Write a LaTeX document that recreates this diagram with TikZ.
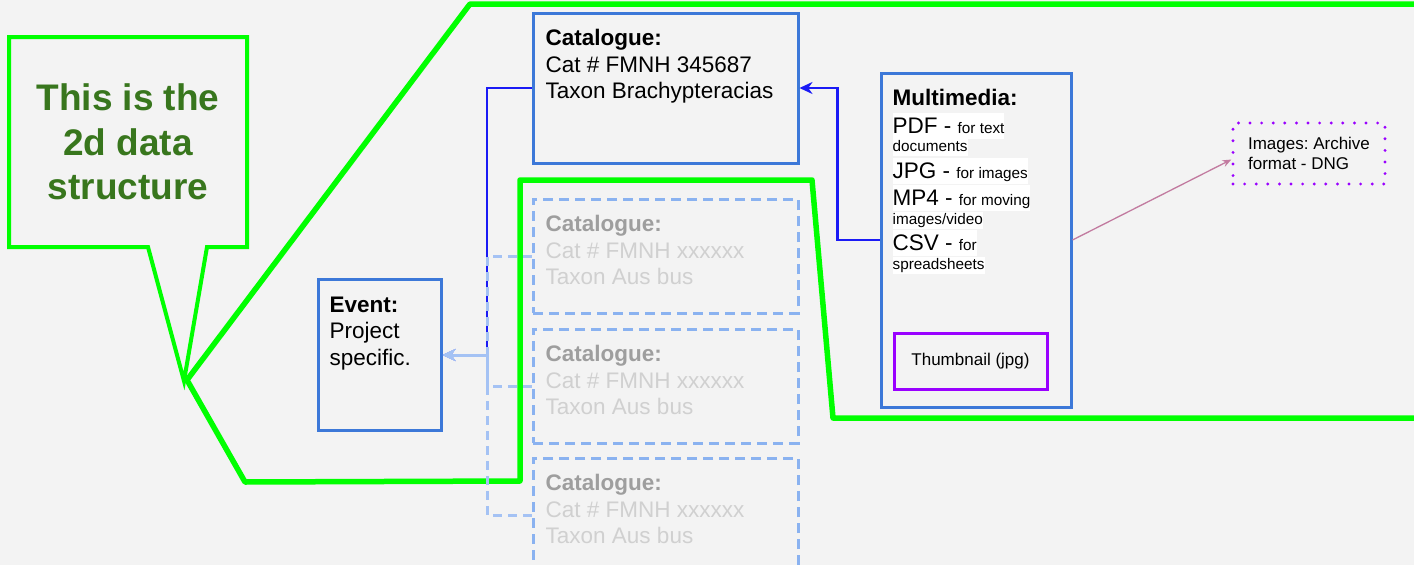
\documentclass[tikz,border=0pt]{standalone}
\usepackage{fontspec}
\setmainfont{Liberation Sans}
\usepackage{tikz}
\usetikzlibrary{positioning}
\usetikzlibrary{arrows.meta}
\usepackage{xcolor}
\definecolor{bggray}{HTML}{F3F3F3}
\definecolor{limegreen}{HTML}{00FF00}
\definecolor{leafgreen}{HTML}{38761D}
\definecolor{boxblue}{HTML}{3C78D8}
\definecolor{linkblue}{HTML}{1A1AF5}
\definecolor{ghostblue}{HTML}{8AB2F0}
\definecolor{ghostline}{HTML}{A4C2F4}
\definecolor{ghosttitle}{HTML}{9E9E9E}
\definecolor{ghosttext}{HTML}{D0D0D0}
\definecolor{thumbpurple}{HTML}{9900FF}
\definecolor{mauve}{HTML}{C27BA0}
\setlength{\fboxsep}{0pt}
\frenchspacing
\newcommand{\topstrut}{\rule{0pt}{17pt}}
\newcommand{\smalltxt}{\fontsize{15.3}{18}\selectfont}
\newcommand{\bighl}[1]{\smash{\colorbox{white}{\rule[-5pt]{0pt}{26pt}#1}}}
\newcommand{\smallhl}[1]{\smash{\colorbox{white}{\rule[-4pt]{0pt}{17pt}#1}}}

\begin{document}
\begin{tikzpicture}[x=1pt, y=-1pt, >=Stealth, node distance=12pt,
    box/.style={draw=boxblue, line width=3pt, rectangle, inner sep=0pt},
    ghostbox/.style={draw=ghostblue, line width=3pt, dash pattern=on 10pt off 6pt,
        rectangle, inner sep=0pt, minimum width=265pt, minimum height=114pt},
    boxtext/.style={anchor=north west, inner sep=0pt, align=left,
        font=\fontsize{22.5}{26.5}\selectfont},
    ghosttextstyle/.style={boxtext, text=ghosttext},
    link/.style={draw=linkblue, line width=2.7pt, -{Stealth[length=13pt, width=12pt]}},
    ghostlink/.style={draw=ghostline, line width=3pt, dash pattern=on 9pt off 6pt,
        -{Stealth[length=13pt, width=12pt]}},
    pinklink/.style={draw=mauve, line width=1.3pt, -{Stealth[length=9pt, width=7pt]}},
    thumbbox/.style={draw=thumbpurple, line width=3pt, inner sep=0pt,
        minimum width=153pt, minimum height=56pt, font=\fontsize{17}{20}\selectfont},
    notebox/.style={draw=thumbpurple, line width=3.2pt, dash pattern=on 0pt off 11.6pt,
        line cap=round, inner sep=0pt, minimum width=152pt, minimum height=61pt,
        align=left, font=\fontsize{17}{20}\selectfont},
    frame/.style={draw=limegreen, line width=5.5pt, line join=round},
    callout/.style={draw=limegreen, line width=4pt, line join=miter}]
    \fill[bggray] (0,0) rectangle (1414,565);
    \useasboundingbox (0,0) rectangle (1414,565);
    \clip (0,0) rectangle (1414,565);

    \draw[callout] (9,37) -- (247,37) -- (247,247) -- (207,247) -- (184,381)
        -- (148,247) -- (9,247) -- cycle;
    \node[font=\fontsize{37}{44.5}\selectfont\bfseries, text=leafgreen, align=center]
        (calloutText) at (128,142) {This is the\\2d data\\structure};

    \draw[frame] (1430,4) -- (470,4) -- (187,380) -- (245,482) -- (520,481)
        -- (520,180) -- (812,180) -- (833,418) -- (1430,418);

    \node[box, minimum width=265pt, minimum height=150pt] (cat) at (665.5,88) {};
    \node[boxtext] (catText) at ([xshift=14pt, yshift=-17pt]cat.north west)
        {\textbf{Catalogue:}\topstrut\\Cat \# FMNH 345687\\Taxon Brachypteracias};

    \node[ghostbox, below=33pt of cat] (ghost1) {};
    \node[ghostbox, below=13pt of ghost1] (ghost2) {};
    \node[ghostbox, below=12pt of ghost2] (ghost3) {};
    \node[ghosttextstyle] (ghostText1) at ([xshift=14pt, yshift=-17pt]ghost1.north west)
        {\textcolor{ghosttitle}{\textbf{Catalogue:}}\topstrut\\Cat \# FMNH xxxxxx\\Taxon Aus bus};
    \node[ghosttextstyle] (ghostText2) at ([xshift=14pt, yshift=-17pt]ghost2.north west)
        {\textcolor{ghosttitle}{\textbf{Catalogue:}}\topstrut\\Cat \# FMNH xxxxxx\\Taxon Aus bus};
    \node[ghosttextstyle] (ghostText3) at ([xshift=14pt, yshift=-17pt]ghost3.north west)
        {\textcolor{ghosttitle}{\textbf{Catalogue:}}\topstrut\\Cat \# FMNH xxxxxx\\Taxon Aus bus};

    \node[box, minimum width=123pt, minimum height=151pt] (event) at (379.5,355) {};
    \node[boxtext] (eventText) at ([xshift=13pt, yshift=-17pt]event.north west)
        {\textbf{Event:}\topstrut\\Project\\specific.};

    \node[box, minimum width=190pt, minimum height=334pt] (mm) at (976,240) {};
    \node[boxtext, font=\fontsize{22.5}{27}\selectfont] (mmText)
        at ([xshift=13pt, yshift=-17pt]mm.north west) {%
        \textbf{Multimedia:}\topstrut\\[1pt]
        \bighl{PDF - \smalltxt for text}\\[-9pt]
        \smallhl{\smalltxt documents}\\
        \bighl{JPG - \smalltxt for images}\\
        \bighl{MP4 - \smalltxt for moving}\\[-8pt]
        \smallhl{\smalltxt images/video}\\[-1pt]
        \bighl{CSV - \smalltxt for}\\[-8pt]
        \smallhl{\smalltxt spreadsheets}};
    \node[thumbbox] (thumb) at (970.5,361) {Thumbnail (jpg)};

    \node[notebox] (archive) at (1309,153.5) {Images: Archive\\format - DNG};

    \coordinate (bus) at (487,355);
    \draw[link] (cat.west) -| (bus) -- (event.east);
    \draw[ghostlink] (ghost1.west) -| (bus) -- (event.east);
    \draw[ghostlink] (ghost2.west) -| (bus) -- (event.east);
    \draw[ghostlink] (ghost3.west) -| (bus) -- (event.east);
    \draw[link] (mm.west) -- ++(-42,0) |- (cat.east);
    \draw[pinklink] (mm.east) -- ([yshift=-6pt]archive.west);
\end{tikzpicture}
\end{document}
